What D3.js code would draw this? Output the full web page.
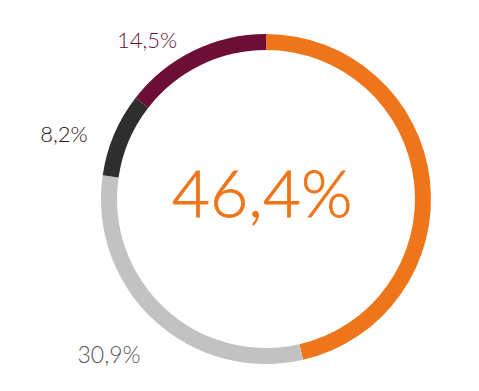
<!DOCTYPE html>
<html><head><meta charset="utf-8">
<script src="https://cdn.jsdelivr.net/npm/d3@7"></script>
<style>body{margin:0;background:#fff}svg{display:block}</style>
</head><body>
<svg id="c" width="479" height="391"></svg>
<script>
const categories = ["A", "B", "C", "D"];
const values = [46.4, 30.9, 8.2, 14.5];
const labels = ["46,4%", "30,9%", "8,2%", "14,5%"];
const colors = ["#EE7519", "#C2C2C2", "#2E2E2E", "#6C0E36"];
const labelColors = ["#EE7519", "#555555", "#222222", "#6C0E36"];

const svg = d3.select("#c");
const cx = 266, cy = 199, rOuter = 165, rInner = 149;
const g = svg.append("g").attr("transform", `translate(${cx},${cy})`);
const pie = d3.pie().sort(null).value(d => d)(values);
const arc = d3.arc().innerRadius(rInner).outerRadius(rOuter);
g.selectAll("path").data(pie).join("path")
  .attr("d", arc).attr("fill", (d, i) => colors[i]);

const font = "Lato, 'Liberation Sans', sans-serif";
// center value
svg.append("text").attr("x", 262).attr("y", 217).attr("text-anchor", "middle")
  .attr("font-family", font).attr("font-weight", 300).attr("font-size", 66)
  .attr("stroke", labelColors[0]).attr("stroke-width", 0.8)
  .attr("fill", labelColors[0]).text(labels[0]);
// outside labels
const lp = [null, {x: 109, y: 363, s: 23}, {x: 64, y: 142, s: 22}, {x: 147, y: 48, s: 22}];
for (let i = 1; i < labels.length; i++) {
  svg.append("text").attr("x", lp[i].x).attr("y", lp[i].y).attr("text-anchor", "middle")
    .attr("font-family", font).attr("font-weight", 300).attr("font-size", lp[i].s)
    .attr("fill", labelColors[i]).text(labels[i]);
}
</script>
</body></html>
